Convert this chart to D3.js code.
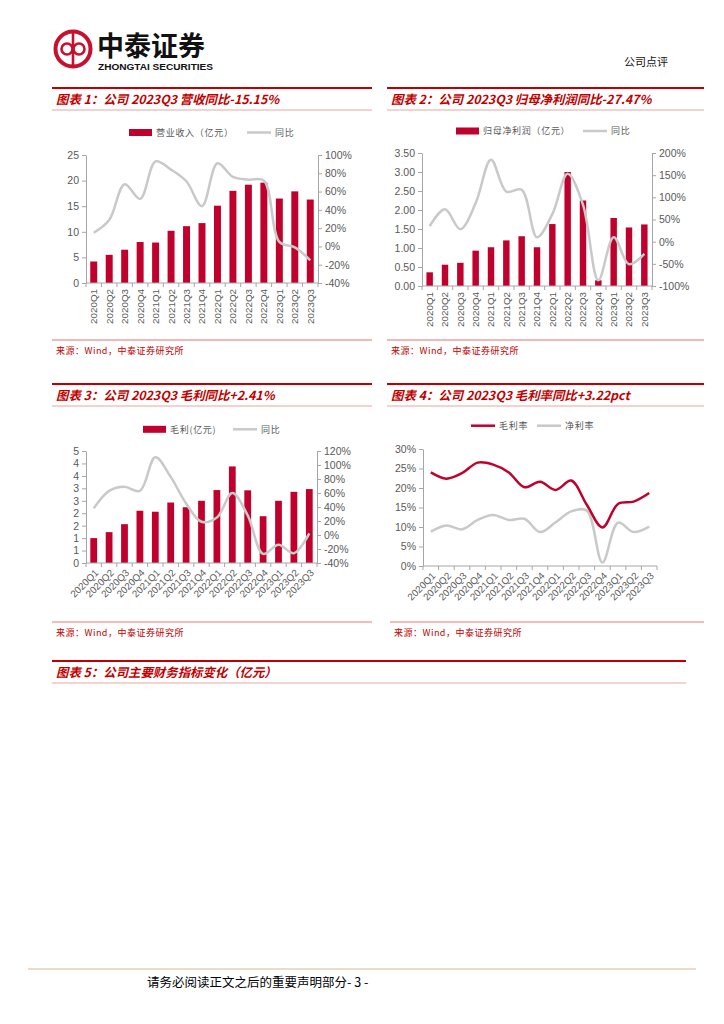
<!DOCTYPE html>
<html><head><meta charset="utf-8">
<script src="https://cdn.jsdelivr.net/npm/d3@7"></script>
<style>body{margin:0;background:#fff}svg{display:block}</style>
</head><body>
<svg id="c" width="724" height="1024"></svg>
<script>
// ---------------- DATA ----------------
const quarters = ["2020Q1","2020Q2","2020Q3","2020Q4","2021Q1","2021Q2","2021Q3","2021Q4","2022Q1","2022Q2","2022Q3","2022Q4","2023Q1","2023Q2","2023Q3"];
// Chart 1: revenue (亿元) and YoY %
const revenue    = [4.2,5.5,6.5,8.0,7.9,10.2,11.1,11.7,15.1,18.0,19.2,19.6,16.5,17.9,16.3];
const revenueYoY = [15,29,68,52,93,84,71,44,91,76,73,72,5,-1,-15.15];
const revTicksL  = [0,5,10,15,20,25];
const revTicksR  = [-40,-20,0,20,40,60,80,100];
// Chart 2: net profit attributable (亿元) and YoY %
const netProfit    = [0.36,0.56,0.61,0.93,1.02,1.20,1.31,1.02,1.63,3.00,2.25,0.15,1.79,1.54,1.62];
const netProfitYoY = [35,73,28,87,185,113,117,10,62,153,83,-87,10,-51,-27.47];
const npTicksL = [0,0.5,1,1.5,2,2.5,3,3.5];
const npTicksR = [-100,-50,0,50,100,150,200];
// Chart 3: gross profit (亿元) and YoY %
const grossProfit    = [1.0,1.24,1.56,2.1,2.06,2.43,2.24,2.5,2.93,3.88,2.92,1.88,2.5,2.86,2.97];
const grossProfitYoY = [38,63,69,63,111,83,45,19,25,60,28,-27,-14,-26,2.41];
const gpTicksL  = [0,0.5,1,1.5,2,2.5,3,3.5,4,4.5];
const gpLabelsL = ["0","1","1","2","2","3","3","4","4","5"];
const gpTicksR  = [-40,-20,0,20,40,60,80,100,120];
// Chart 4: margins %
const grossMargin = [24.0,22.4,23.8,26.5,26.0,24.0,20.2,21.6,19.5,21.9,15.7,9.9,15.9,16.5,18.7];
const netMargin   = [8.8,10.4,9.4,11.8,13.1,11.8,12.1,8.7,11.2,14.0,14.2,0.9,11.1,8.7,10.1];
const marginTicks = [0,5,10,15,20,25,30];

// ---------------- STYLE ----------------
const RED="#C0002D", GRAY="#C9C9C9", AX="#A6A6A6", TXT="#595959", HEAD="#C00000";
const CJK="'Noto Sans CJK SC','Noto Sans',sans-serif";
const LAT="'Liberation Sans',Arial,sans-serif";

const svg = d3.select("#c");
svg.append("rect").attr("width",724).attr("height",1024).attr("fill","#fff");

// ---------------- PAGE HEADER ----------------
const logo = svg.append("g");
logo.append("circle").attr("cx",73).attr("cy",49).attr("r",17.5).attr("fill","none").attr("stroke","#C8102E").attr("stroke-width",4);
logo.append("line").attr("x1",73).attr("x2",73).attr("y1",33).attr("y2",65).attr("stroke","#C8102E").attr("stroke-width",2.6);
logo.append("circle").attr("cx",67).attr("cy",49).attr("r",5.5).attr("fill","none").attr("stroke","#C8102E").attr("stroke-width",2.6);
logo.append("circle").attr("cx",79).attr("cy",49).attr("r",5.5).attr("fill","none").attr("stroke","#C8102E").attr("stroke-width",2.6);
svg.append("text").attr("x",97).attr("y",56).attr("font-family",CJK).attr("font-weight",700).attr("font-size",27).attr("fill","#111").text("中泰证券");
svg.append("text").attr("x",98).attr("y",70).attr("font-family",LAT).attr("font-weight",700).attr("font-size",8.5).attr("textLength",115).attr("lengthAdjust","spacingAndGlyphs").attr("fill","#111").text("ZHONGTAI SECURITIES");
svg.append("text").attr("x",668).attr("y",66).attr("text-anchor","end").attr("font-family",CJK).attr("font-size",11).attr("fill","#111").text("公司点评");

// ---------------- SECTION HEADERS ----------------
function header(x1,x2,y,title){
  svg.append("line").attr("x1",x1).attr("x2",x2).attr("y1",y).attr("y2",y).attr("stroke",HEAD).attr("stroke-width",2);
  svg.append("text").attr("x",x1+4).attr("y",y+16).attr("font-family",CJK).attr("font-weight",700)
    .attr("font-style","italic").attr("font-size",12.4).attr("fill",HEAD).text(title);
  svg.append("line").attr("x1",x1).attr("x2",x2).attr("y1",y+22).attr("y2",y+22).attr("stroke","#EBA5A5").attr("stroke-width",1);
}
function source(x1,x2,y,thick){
  svg.append("line").attr("x1",x1).attr("x2",x2).attr("y1",y).attr("y2",y)
    .attr("stroke",thick?"#F2B8B8":"#E27A7A").attr("stroke-width",thick?2:1);
  svg.append("text").attr("x",x1+4).attr("y",y+14).attr("font-family",CJK).attr("font-size",9)
    .attr("letter-spacing",0.5).attr("fill",HEAD).text("来源：Wind，中泰证券研究所");
}
header(52,372,88,"图表 1：公司 2023Q3 营收同比-15.15%");
header(387,704,88,"图表 2：公司 2023Q3 归母净利润同比-27.47%");
header(52,372,384,"图表 3：公司 2023Q3 毛利同比+2.41%");
header(387,704,384,"图表 4：公司 2023Q3 毛利率同比+3.22pct");
header(52,686,661,"图表 5：公司主要财务指标变化（亿元）");
source(52,372,340,true);
source(387,704,340,true);
source(52,372,622,false);
source(390,704,622,false);

// footer
svg.append("line").attr("x1",28).attr("x2",696).attr("y1",969).attr("y2",969).attr("stroke","#E8CDB9").attr("stroke-width",1.5);
svg.append("text").attr("x",147).attr("y",987).attr("font-family",CJK).attr("font-size",12.5).attr("fill","#000").text("请务必阅读正文之后的重要声明部分- 3 -");

// ---------------- HELPERS ----------------
function styleAxis(g){
  g.select(".domain").attr("stroke",AX);
  g.selectAll(".tick line").attr("stroke",AX);
  g.selectAll(".tick text").attr("fill",TXT).attr("font-family",LAT).attr("font-size",10.5);
}
function xAxis(g,x,y0,rot){
  const n = quarters.length, st = x.step(), start = x.range()[0];
  g.append("line").attr("x1",x.range()[0]).attr("x2",x.range()[1]).attr("y1",y0).attr("y2",y0).attr("stroke",AX);
  g.selectAll("line.xt").data(d3.range(n+1)).join("line").attr("class","xt")
    .attr("x1",i=>start+i*st).attr("x2",i=>start+i*st).attr("y1",y0).attr("y2",y0+4).attr("stroke",AX);
  g.selectAll("text.xl").data(quarters).join("text").attr("class","xl")
    .attr("font-family",LAT).attr("font-size",9.8).attr("fill",TXT).attr("text-anchor","end").attr("dy","0.35em")
    .attr("transform",d=>{
      const cx = x(d)+x.bandwidth()/2;
      return rot===-90 ? `translate(${cx},${y0+6}) rotate(-90)` : `translate(${cx+3},${y0+8}) rotate(-45)`;
    })
    .text(d=>d);
}
function legendRect(x,y,label){
  svg.append("rect").attr("x",x).attr("y",y-3.5).attr("width",23).attr("height",7).attr("fill",RED);
  svg.append("text").attr("x",x+27).attr("y",y+3.2).attr("font-family",CJK).attr("font-size",9)
    .attr("letter-spacing",0.7).attr("fill",TXT).text(label);
}
function legendLine(x,y,color,label){
  svg.append("line").attr("x1",x).attr("x2",x+24).attr("y1",y).attr("y2",y).attr("stroke",color).attr("stroke-width",2.5);
  svg.append("text").attr("x",x+28).attr("y",y+3.2).attr("font-family",CJK).attr("font-size",9)
    .attr("letter-spacing",0.7).attr("fill",TXT).text(label);
}

function combo(o){
  const g = svg.append("g");
  const x = d3.scaleBand().domain(quarters).range([o.x0,o.x1]).paddingInner(o.pad).paddingOuter(o.pad/2);
  const yL = d3.scaleLinear().domain([o.lTicks[0],o.lTicks[o.lTicks.length-1]]).range([o.yB,o.yT]);
  const yR = d3.scaleLinear().domain([o.rTicks[0],o.rTicks[o.rTicks.length-1]]).range([o.yB,o.yT]);
  const gl = g.append("g").attr("transform",`translate(${o.x0},0)`)
    .call(d3.axisLeft(yL).tickValues(o.lTicks).tickSize(4).tickSizeOuter(0).tickPadding(3).tickFormat(o.lFmt));
  styleAxis(gl);
  const gr = g.append("g").attr("transform",`translate(${o.x1},0)`)
    .call(d3.axisRight(yR).tickValues(o.rTicks).tickSize(4).tickSizeOuter(0).tickPadding(3).tickFormat(d=>d+"%"));
  styleAxis(gr);
  g.selectAll("rect.bar").data(o.bars).join("rect").attr("class","bar")
    .attr("x",(d,i)=>x(quarters[i])).attr("y",d=>yL(d)).attr("width",x.bandwidth())
    .attr("height",d=>yL(0)-yL(d)).attr("fill",RED);
  xAxis(g,x,o.yB,o.rot);
  const line = d3.line().x((d,i)=>x(quarters[i])+x.bandwidth()/2).y(d=>yR(d)).curve(d3.curveCatmullRom.alpha(0.5));
  g.append("path").datum(o.line).attr("d",line).attr("fill","none").attr("stroke",GRAY).attr("stroke-width",2.5);
}

// ---------------- CHARTS ----------------
combo({x0:86,x1:318,yT:155,yB:283,pad:0.55,bars:revenue,line:revenueYoY,lTicks:revTicksL,lFmt:d=>d,rTicks:revTicksR,rot:-90});
legendRect(129,132.5,"营业收入（亿元）");
legendLine(247,132.5,GRAY,"同比");

combo({x0:422,x1:652,yT:153,yB:286,pad:0.58,bars:netProfit,line:netProfitYoY,lTicks:npTicksL,lFmt:d3.format(".2f"),rTicks:npTicksR,rot:-90});
legendRect(456,131,"归母净利润（亿元）");
legendLine(583,131,GRAY,"同比");

combo({x0:86,x1:317,yT:451,yB:563,pad:0.56,bars:grossProfit,line:grossProfitYoY,lTicks:gpTicksL,lFmt:(d,i)=>gpLabelsL[i],rTicks:gpTicksR,rot:-45});
legendRect(143,429.3,"毛利(亿元)");
legendLine(233,429.3,GRAY,"同比");

// Chart 4 (lines)
(function(){
  const g = svg.append("g");
  const x0=423,x1=657,yT=449,yB=566;
  const x = d3.scaleBand().domain(quarters).range([x0,x1]);
  const y = d3.scaleLinear().domain([0,30]).range([yB,yT]);
  const gl = g.append("g").attr("transform",`translate(${x0},0)`)
    .call(d3.axisLeft(y).tickValues(marginTicks).tickSize(4).tickSizeOuter(0).tickPadding(3).tickFormat(d=>d+"%"));
  styleAxis(gl);
  xAxis(g,x,yB,-45);
  const line = d3.line().x((d,i)=>x(quarters[i])+x.bandwidth()/2).y(d=>y(d)).curve(d3.curveCatmullRom.alpha(0.5));
  g.append("path").datum(netMargin).attr("d",line).attr("fill","none").attr("stroke",GRAY).attr("stroke-width",2.5);
  g.append("path").datum(grossMargin).attr("d",line).attr("fill","none").attr("stroke",RED).attr("stroke-width",2.5);
})();
legendLine(471,425.7,RED,"毛利率");
legendLine(537,425.7,GRAY,"净利率");
</script>
</body></html>
